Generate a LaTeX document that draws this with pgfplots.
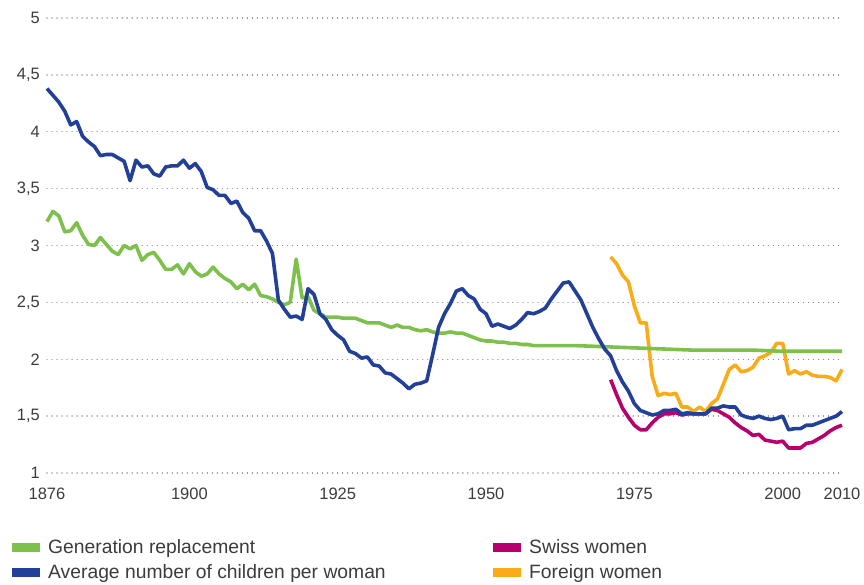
\documentclass[border=0pt]{standalone}
\usepackage{fontspec}
\setmainfont{Liberation Sans}
\usepackage{pgfplots}
\pgfplotsset{compat=1.18}
\definecolor{cgreen}{RGB}{125,193,76}
\definecolor{cblue}{RGB}{35,64,152}
\definecolor{cmag}{RGB}{183,0,110}
\definecolor{corange}{RGB}{250,172,24}
\definecolor{ctext}{RGB}{60,60,60}
\definecolor{cgrid}{RGB}{140,140,140}
\begin{document}
\begin{tikzpicture}
\path[use as bounding box] (-47pt,-112pt) rectangle (817pt,473pt);
\begin{axis}[
  at={(0pt,0pt)}, anchor=south west,
  scale only axis, width=795pt, height=455pt,
  xmin=1876, xmax=2010, ymin=1, ymax=5,
  axis line style={draw=none},
  major tick length=0pt,
  xtick={1876,1900,1925,1950,1975,2000,2010},
  xticklabels={1876,1900,1925,1950,1975,2000,2010},
  ytick={1,1.5,2,2.5,3,3.5,4,4.5,5},
  yticklabels={1,{1,5},2,{2,5},3,{3,5},4,{4,5},5},
  ymajorgrids,
  grid style={cgrid, line width=1.4pt, dash pattern=on 0.01pt off 5pt, line cap=round},
  tick label style={font=\fontsize{16.5}{18}\selectfont, text=ctext},
  xticklabel style={anchor=base, inner sep=0pt, yshift=-27pt},
  yticklabel style={anchor=east, inner sep=0pt, xshift=-7pt},
  clip=false,
  legend columns=2, transpose legend,
  legend cell align=left,
  legend image code/.code={\fill[#1, draw=none] (0pt,1.5pt) rectangle (28pt,10.5pt);},
  legend style={at={(0,0)}, anchor=north west, xshift=-35pt, yshift=-66pt,
    draw=none, fill=none, inner sep=0pt, row sep=10pt, column sep=0pt,
    font=\fontsize{19.3}{21}\selectfont, text=ctext,
    nodes={inner sep=0pt, anchor=base west},
    /tikz/every odd column/.append style={column sep=8pt}},
  every axis plot/.append style={line width=3.6pt, line join=round},
]
\addlegendimage{cgreen}\addlegendentry{\makebox[445pt][l]{Generation replacement}}
\addlegendimage{cblue}\addlegendentry{\makebox[445pt][l]{Average number of children per woman}}
\addlegendimage{cmag}\addlegendentry{Swiss women}
\addlegendimage{corange}\addlegendentry{Foreign women}

% Foreign women
\addplot[corange, forget plot] coordinates {
(1971,2.90)(1972,2.84)(1973,2.74)(1974,2.68)(1975,2.47)(1976,2.32)(1977,2.32)
(1978,1.85)(1979,1.68)(1980,1.70)(1981,1.69)(1982,1.70)(1983,1.58)(1984,1.58)
(1985,1.54)(1986,1.58)(1987,1.54)(1988,1.61)(1989,1.65)(1990,1.78)(1991,1.91)
(1992,1.95)(1993,1.89)(1994,1.90)(1995,1.93)(1996,2.01)(1997,2.03)(1998,2.06)
(1999,2.14)(2000,2.14)(2001,1.87)(2002,1.90)(2003,1.87)(2004,1.89)(2005,1.86)
(2006,1.85)(2007,1.85)(2008,1.84)(2009,1.81)(2010,1.91)};

% Generation replacement
\addplot[cgreen, forget plot] coordinates {
(1876,3.21)(1877,3.30)(1878,3.26)(1879,3.12)(1880,3.13)(1881,3.20)(1882,3.09)
(1883,3.01)(1884,3.00)(1885,3.07)(1886,3.01)(1887,2.95)(1888,2.92)(1889,3.00)
(1890,2.97)(1891,3.00)(1892,2.87)(1893,2.92)(1894,2.94)(1895,2.87)(1896,2.79)
(1897,2.79)(1898,2.83)(1899,2.75)(1900,2.84)(1901,2.77)(1902,2.73)(1903,2.75)
(1904,2.81)(1905,2.75)(1906,2.71)(1907,2.68)(1908,2.62)(1909,2.66)(1910,2.61)
(1911,2.66)(1912,2.56)(1913,2.55)(1914,2.53)(1915,2.50)(1916,2.48)(1917,2.50)
(1918,2.88)(1919,2.54)(1920,2.55)(1921,2.43)(1922,2.40)(1923,2.37)(1924,2.37)
(1925,2.37)(1926,2.36)(1927,2.36)(1928,2.36)(1929,2.34)(1930,2.32)(1931,2.32)
(1932,2.32)(1933,2.30)(1934,2.28)(1935,2.30)(1936,2.28)(1937,2.28)(1938,2.26)
(1939,2.25)(1940,2.26)(1941,2.24)(1942,2.23)(1943,2.23)(1944,2.24)(1945,2.23)
(1946,2.23)(1947,2.21)(1948,2.19)(1949,2.17)(1950,2.16)(1951,2.16)(1952,2.15)
(1953,2.15)(1954,2.14)(1955,2.14)(1956,2.13)(1957,2.13)(1958,2.12)(1960,2.12)
(1965,2.12)(1970,2.11)(1975,2.10)(1980,2.09)(1985,2.08)(1990,2.08)(1995,2.08)
(2000,2.07)(2005,2.07)(2010,2.07)};

% Swiss women
\addplot[cmag, forget plot] coordinates {
(1971,1.82)(1972,1.69)(1973,1.57)(1974,1.49)(1975,1.42)(1976,1.38)(1977,1.38)
(1978,1.44)(1979,1.49)(1980,1.52)(1981,1.52)(1982,1.53)(1983,1.51)(1984,1.52)
(1985,1.52)(1986,1.52)(1987,1.52)(1988,1.56)(1989,1.55)(1990,1.52)(1991,1.49)
(1992,1.44)(1993,1.40)(1994,1.37)(1995,1.33)(1996,1.34)(1997,1.29)(1998,1.28)
(1999,1.27)(2000,1.28)(2001,1.22)(2002,1.22)(2003,1.22)(2004,1.26)(2005,1.27)
(2006,1.30)(2007,1.33)(2008,1.37)(2009,1.40)(2010,1.42)};

% Average number of children per woman
\addplot[cblue, forget plot] coordinates {
(1876,4.38)(1877,4.32)(1878,4.26)(1879,4.18)(1880,4.06)(1881,4.09)(1882,3.96)
(1883,3.91)(1884,3.87)(1885,3.79)(1886,3.80)(1887,3.80)(1888,3.77)(1889,3.74)
(1890,3.57)(1891,3.75)(1892,3.69)(1893,3.70)(1894,3.63)(1895,3.61)(1896,3.69)
(1897,3.70)(1898,3.70)(1899,3.75)(1900,3.68)(1901,3.72)(1902,3.65)(1903,3.51)
(1904,3.49)(1905,3.44)(1906,3.44)(1907,3.37)(1908,3.39)(1909,3.29)(1910,3.24)
(1911,3.13)(1912,3.13)(1913,3.04)(1914,2.93)(1915,2.52)(1916,2.44)(1917,2.37)
(1918,2.38)(1919,2.35)(1920,2.62)(1921,2.57)(1922,2.40)(1923,2.35)(1924,2.26)
(1925,2.21)(1926,2.17)(1927,2.07)(1928,2.05)(1929,2.01)(1930,2.02)(1931,1.95)
(1932,1.94)(1933,1.88)(1934,1.87)(1935,1.83)(1936,1.79)(1937,1.74)(1938,1.78)
(1939,1.79)(1940,1.81)(1941,2.04)(1942,2.28)(1943,2.40)(1944,2.49)(1945,2.60)
(1946,2.62)(1947,2.56)(1948,2.53)(1949,2.44)(1950,2.40)(1951,2.29)(1952,2.31)
(1953,2.29)(1954,2.27)(1955,2.30)(1956,2.35)(1957,2.41)(1958,2.40)(1959,2.42)
(1960,2.45)(1961,2.53)(1962,2.60)(1963,2.67)(1964,2.68)(1965,2.60)(1966,2.52)
(1967,2.40)(1968,2.28)(1969,2.18)(1970,2.09)(1971,2.03)(1972,1.90)(1973,1.80)
(1974,1.72)(1975,1.61)(1976,1.55)(1977,1.53)(1978,1.51)(1979,1.52)(1980,1.55)
(1981,1.55)(1982,1.56)(1983,1.52)(1984,1.53)(1985,1.52)(1986,1.52)(1987,1.52)
(1988,1.57)(1989,1.57)(1990,1.59)(1991,1.58)(1992,1.58)(1993,1.51)(1994,1.49)
(1995,1.48)(1996,1.50)(1997,1.48)(1998,1.47)(1999,1.48)(2000,1.50)(2001,1.38)
(2002,1.39)(2003,1.39)(2004,1.42)(2005,1.42)(2006,1.44)(2007,1.46)(2008,1.48)
(2009,1.50)(2010,1.54)};
\end{axis}
\end{tikzpicture}
\end{document}
